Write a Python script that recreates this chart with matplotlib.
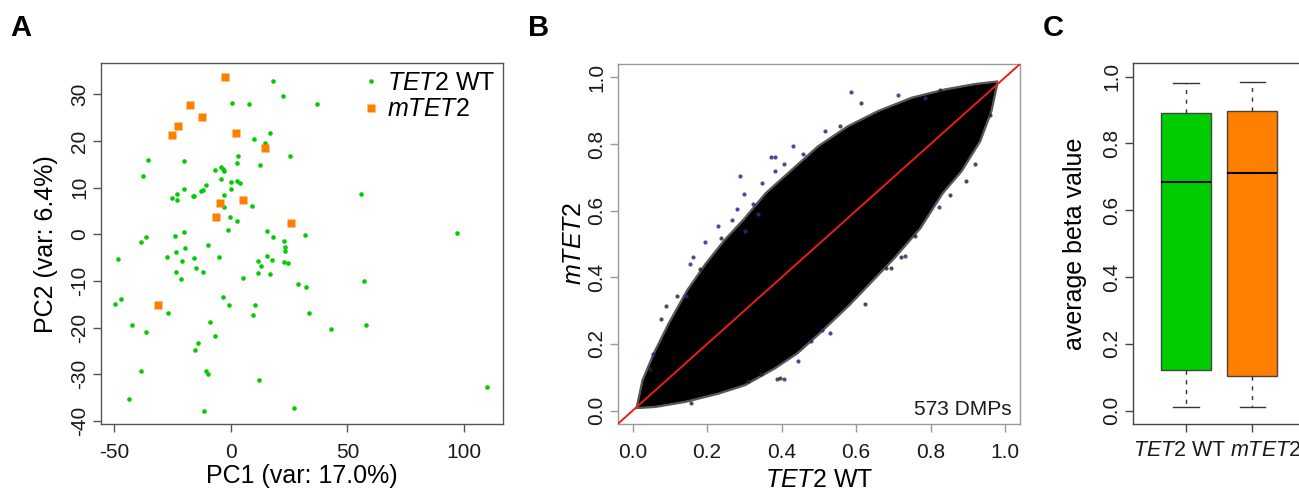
import matplotlib
matplotlib.use("Agg")
import matplotlib.pyplot as plt
from matplotlib.lines import Line2D
from matplotlib.transforms import ScaledTranslation

plt.rcParams['font.family'] = ['Liberation Sans', 'DejaVu Sans']
plt.rcParams['mathtext.fontset'] = 'custom'
plt.rcParams['mathtext.rm'] = 'Liberation Sans'
plt.rcParams['mathtext.it'] = 'Liberation Sans:italic'
plt.rcParams['axes.unicode_minus'] = False

# ---------------- Panel A: PCA ----------------
wt_pc1 = [18.0, 22.3, 0.7, 7.8, 37.1, 16.7, 10.1, 14.6, 25.3, -35.4, -20.0, 3.1, 2.8, 12.7,
          -37.6, -6.7, -4.2, -3.2, -2.7, -4.3, 0.3, 2.7, 3.9, -10.7, -11.9, -12.6, -20.0, 0.0,
          -23.0, -25.3, -23.0, -16.2, -15.7, -3.0, -2.7, 9.1, -0.3, 2.7, -1.2, 15.7, 18.0, 31.7,
          -36.3, -23.7, -20.1, 22.8, 23.4, 23.1, 22.7, 24.7, 15.7, 17.6, 11.7, 13.0, 11.7, 17.0,
          5.4, -9.7, -4.9, -38.6, -19.7, -23.4, -27.4, -15.6, -20.9, -14.9, -11.7, -23.3, -21.3,
          -48.3, 28.7, 32.1, -3.3, -0.9, 10.3, 9.6, 33.6, -47.1, -49.7, -27.0, -42.3, -36.2,
          -8.7, -6.9, -14.0, -15.4, 42.9, -38.3, -10.6, -9.6, 12.1, -43.5, -11.6, 27.1,
          56.0, 96.9, 57.1, 58.0, 110.0]
wt_pc2 = [32.9, 29.6, 28.1, 27.9, 27.9, 21.8, 20.4, 19.5, 16.7, 16.0, 15.6, 16.8, 15.3, 14.9,
          12.4, 13.7, 14.5, 14.0, 13.6, 11.8, 11.1, 11.4, 10.9, 10.5, 9.5, 9.3, 9.7, 9.6,
          8.6, 7.8, 7.3, 8.2, 8.1, 8.4, 5.8, 6.1, 3.8, 2.8, 0.9, 0.8, -0.6, -0.2,
          -0.6, -0.4, 0.5, -1.4, -2.7, -3.6, -5.9, -6.1, -4.6, -5.5, -5.8, -6.9, -8.4, -8.6,
          -9.3, -2.4, -4.8, -1.6, -2.9, -3.7, -4.9, -5.0, -5.7, -7.2, -8.1, -8.1, -9.5,
          -5.4, -10.7, -11.3, -13.4, -15.1, -15.1, -17.2, -16.9, -13.8, -14.9, -16.9, -19.5, -21.0,
          -18.9, -21.9, -23.4, -24.9, -20.4, -29.3, -29.2, -29.9, -31.2, -35.2, -37.9, -37.2,
          8.6, 0.3, -10.1, -19.4, -32.8]
mut_pc1 = [-2.6, -17.6, -12.3, -22.6, -25.0, 2.1, 14.6, -4.5, 5.1, -6.4, 25.7, -31.0]
mut_pc2 = [33.8, 27.8, 25.1, 23.3, 21.2, 21.6, 18.4, 6.6, 7.3, 3.7, 2.5, -15.2]
pcaA_xticks = [-50, 0, 50, 100]
pcaA_yticks = [-40, -30, -20, -10, 0, 10, 20, 30]

# ---------------- Panel B: beta value scatter ----------------
cloud_upper_x = [0.015, 0.03, 0.06, 0.10, 0.15, 0.20, 0.25, 0.30, 0.36, 0.42, 0.50, 0.58, 0.66, 0.75, 0.84, 0.92, 0.975]
cloud_upper_y = [0.012, 0.09, 0.17, 0.26, 0.36, 0.44, 0.51, 0.57, 0.65, 0.71, 0.79, 0.85, 0.895, 0.935, 0.96, 0.976, 0.983]
cloud_lower_x = [0.975, 0.96, 0.93, 0.88, 0.83, 0.77, 0.70, 0.64, 0.58, 0.50, 0.44, 0.38, 0.30, 0.23, 0.14, 0.06, 0.015]
cloud_lower_y = [0.978, 0.90, 0.81, 0.72, 0.655, 0.55, 0.46, 0.39, 0.32, 0.235, 0.175, 0.13, 0.08, 0.055, 0.03, 0.015, 0.012]
blue_x = [0.287, 0.371, 0.381, 0.299, 0.279, 0.229, 0.195, 0.268, 0.347, 0.323, 0.431, 0.458, 0.406, 0.301, 0.381,
          0.055, 0.162, 0.153, 0.144, 0.406, 0.444, 0.480, 0.586, 0.713, 0.784, 0.516, 0.732, 0.822, 0.530, 0.508, 0.337]
blue_y = [0.704, 0.762, 0.761, 0.651, 0.606, 0.555, 0.507, 0.573, 0.683, 0.619, 0.793, 0.769, 0.739, 0.539, 0.719,
          0.170, 0.461, 0.439, 0.344, 0.095, 0.150, 0.210, 0.956, 0.946, 0.938, 0.838, 0.464, 0.611, 0.232, 0.242, 0.589]
black_x = [0.090, 0.120, 0.077, 0.180, 0.046, 0.157, 0.388, 0.345, 0.310, 0.612, 0.825, 0.557, 0.721, 0.693,
           0.851, 0.896, 0.919, 0.959, 0.757, 0.623, 0.681, 0.238, 0.396]
black_y = [0.313, 0.344, 0.275, 0.424, 0.125, 0.022, 0.095, 0.110, 0.090, 0.923, 0.963, 0.853, 0.461, 0.427,
           0.647, 0.689, 0.739, 0.888, 0.524, 0.320, 0.429, 0.519, 0.097]
identity = [0.0, 1.0]
beta_ticks = [0.0, 0.2, 0.4, 0.6, 0.8, 1.0]
n_dmps = 573

# ---------------- Panel C: boxplot ----------------
groups = [r"$\mathit{TET2}$ WT", r"$\mathit{mTET2}$"]
whisker_lo = [0.012, 0.012]
q1 = [0.121, 0.105]
median = [0.684, 0.712]
q3 = [0.891, 0.898]
whisker_hi = [0.982, 0.983]
box_colors = ['#00CD00', '#FF7F00']

GREEN = '#00CD00'
ORANGE = '#FF7F00'

W, H = 1299, 488
fig = plt.figure(figsize=(W / 100, H / 100), dpi=100)


def rect(l, t, r, b):
    return [l / W, 1 - b / H, (r - l) / W, (b - t) / H]


def style(ax, spine_color):
    for s in ax.spines.values():
        s.set_color(spine_color)
        s.set_linewidth(1.0)
    ax.tick_params(direction='out', length=5.5, width=1.0, color=spine_color,
                   labelsize=15, labelcolor='#1a1a1a')
    ax.tick_params(axis='x', pad=8)
    ax.tick_params(axis='y', pad=3, labelrotation=90)
    for lab in ax.get_yticklabels():
        lab.set_va('center')


# Panel A
axA = fig.add_axes(rect(101, 63.3, 503, 424))
axA.plot(wt_pc1, wt_pc2, 'o', color=GREEN, ms=3.3, mec='none', ls='')
axA.plot(mut_pc1, mut_pc2, 's', color=ORANGE, ms=5.2, mec='none', ls='')
axA.set_xlim(-55.6, 116.7)
axA.set_ylim(-40.65, 36.64)
axA.set_xticks(pcaA_xticks)
axA.set_yticks(pcaA_yticks)
style(axA, '#555555')
axA.set_xlabel('PC1 (var: 17.0%)', fontsize=18, va='top')
axA.xaxis.set_label_coords(0.5, -0.112)
axA.set_ylabel('PC2 (var: 6.4%)', fontsize=18)
axA.yaxis.set_label_coords(-0.108, 0.5)
handles = [Line2D([], [], marker='o', color=GREEN, ls='', ms=3.3, mec='none'),
           Line2D([], [], marker='s', color=ORANGE, ls='', ms=5.2, mec='none')]
axA.legend(handles, [r"$\mathit{TET2}$ WT", r"$\mathit{mTET2}$"], loc='upper right',
           frameon=False, fontsize=18, handlelength=0.6, handletextpad=0.35,
           labelspacing=0.1, borderaxespad=0.2, borderpad=0.1)

# Panel B
axB = fig.add_axes(rect(617.7, 64, 1020, 424))
poly_x = cloud_upper_x + cloud_lower_x
poly_y = cloud_upper_y + cloud_lower_y
axB.fill(poly_x, poly_y, color='black', lw=3.5, ec=(0.12, 0.12, 0.12, 0.75), zorder=2)
axB.fill(poly_x, poly_y, color='black', lw=0, zorder=2)
axB.plot(black_x, black_y, 'o', color='#222222', alpha=0.8, ms=3.0, mec='none', ls='', zorder=2)
axB.plot(blue_x, blue_y, 'o', color='#2b2b8a', alpha=0.85, ms=3.0, mec='none', ls='', zorder=2)
axB.axline((identity[0], identity[0]), (identity[1], identity[1]), color='#ee1c1c', lw=1.4, zorder=3)
axB.set_xlim(-0.04, 1.04)
axB.set_ylim(-0.04, 1.04)
axB.set_xticks(beta_ticks)
axB.set_yticks(beta_ticks)
style(axB, '#999999')
axB.set_xlabel(r"$\mathit{TET2}$ WT", fontsize=18, va='top')
axB.xaxis.set_label_coords(0.5, -0.122)
axB.set_ylabel(r"$\mathit{mTET2}$", fontsize=18)
axB.yaxis.set_label_coords(-0.078, 0.5)
axB.text(0.979, 0.025, f'{n_dmps} DMPs', transform=axB.transAxes, ha='right',
         va='baseline', fontsize=15, color='#1a1a1a')

# Panel C
axC = fig.add_axes(rect(1133.3, 63.3, 1304.8, 424))
stats = []
for i in range(len(groups)):
    stats.append(dict(whislo=whisker_lo[i], q1=q1[i], med=median[i], q3=q3[i],
                      whishi=whisker_hi[i], label=groups[i]))
bp = axC.bxp(stats, positions=[1, 2], widths=0.75, patch_artist=True, showfliers=False,
             boxprops=dict(edgecolor='#444444', linewidth=1.0),
             medianprops=dict(color='black', linewidth=1.5),
             whiskerprops=dict(color='#333333', linewidth=1.0, linestyle=(0, (3, 4))),
             capprops=dict(color='#333333', linewidth=1.0), capwidths=0.385)
for patch, c in zip(bp['boxes'], box_colors):
    patch.set_facecolor(c)
axC.set_xlim(0.214, 2.786)
axC.set_ylim(-0.04, 1.04)
axC.set_yticks(beta_ticks)
style(axC, '#444444')
axC.tick_params(axis='x', pad=6, labelsize=15.5)
xt = axC.get_xticklabels()
for lab, dx in zip(xt, [-6, 13]):
    lab.set_transform(lab.get_transform() + ScaledTranslation(dx / 100, 0, fig.dpi_scale_trans))
axC.set_ylabel('average beta value', fontsize=18)
axC.yaxis.set_label_coords(-0.272, 0.5)

# Panel letters
for letter, xpx in [('A', 10), ('B', 528), ('C', 1043)]:
    fig.text(xpx / W, 1 - 14 / H, letter, fontsize=21, fontweight='bold', va='top', ha='left')

fig.savefig('out.png', dpi=100)
